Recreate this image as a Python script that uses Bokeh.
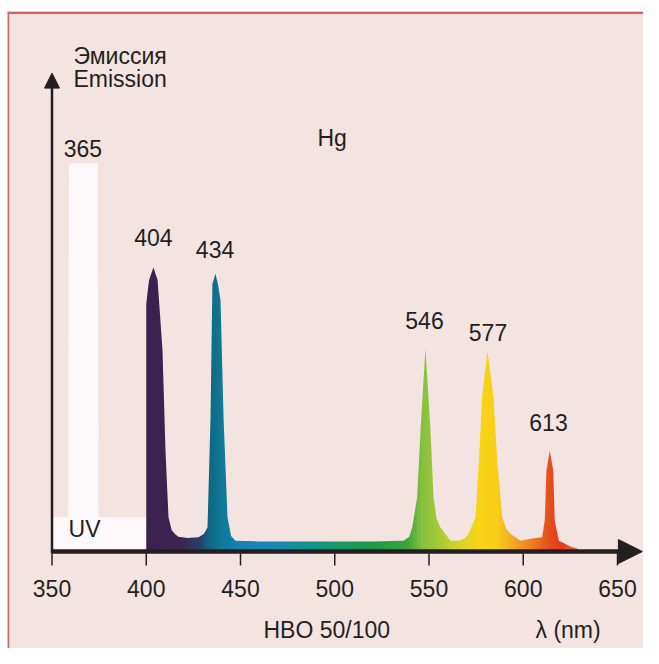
import numpy as np
from bokeh.plotting import figure
from bokeh.models import Arrow, NormalHead, Span
from bokeh.embed import file_html
from bokeh.resources import INLINE
from bokeh.core.properties import value

# ---------------- data ----------------
# UV part (white): wavelength (nm) and emission (relative, 365 peak = 100)
uv_wl = [350.0, 358.6, 359.0, 374.2, 374.7, 400.0]
uv_em = [8.8, 8.8, 100.0, 100.0, 8.8, 8.8]

# visible part outline
vis_wl = [400.0, 401.5, 403.8, 406.0, 408.6, 410.2, 411.8, 413.5, 415.5, 417.0,
          422.0, 427.7, 430.5, 432.5, 434.1, 435.1, 436.7, 438.0, 439.4, 441.0,
          443.1, 445.0, 447.3, 460.0, 480.0, 500.0, 520.0, 530.0, 536.5, 539.5,
          541.1, 543.7, 545.5, 548.1, 550.8, 552.4, 554.0, 556.1, 561.4, 566.0,
          569.0, 571.0, 574.7, 576.4, 578.2, 581.0, 584.2, 586.3, 588.8, 591.0,
          593.2, 598.5, 603.8, 610.0, 611.4, 612.3, 614.1, 615.9, 616.7, 618.9,
          625.1, 628.6, 630.0]
vis_em = [64.0, 70.0, 73.2, 70.0, 52.0, 26.0, 8.8, 5.5, 4.4, 3.8,
          3.5, 3.7, 4.5, 6.2, 34.5, 69.0, 71.6, 69.0, 64.7, 34.5,
          8.8, 4.0, 2.8, 2.6, 2.6, 2.6, 2.6, 2.7, 2.8, 3.8,
          6.2, 13.9, 31.2, 52.3, 31.2, 13.9, 8.5, 6.2, 2.8, 2.8,
          3.4, 4.6, 8.8, 22.7, 39.8, 51.8, 39.8, 22.7, 8.8, 5.8,
          4.6, 2.8, 3.3, 3.7, 8.0, 20.9, 26.0, 20.9, 8.0, 2.8,
          1.3, 0.8, 0.0]

peak_labels = ["365", "404", "434", "546", "577", "613"]
tick_values = [350, 400, 450, 500, 550, 600, 650]
tick_labels = ["350", "400", "450", "500", "550", "600", "650"]

# ---------------- style ----------------
BG = "#f3e4e2"
RED = "#d9625f"
INK = "#231f20"
FONT = value("Liberation Sans")
FS = "23px"
TXT = dict(text_font=FONT, text_font_size=FS, text_color=INK,
           text_baseline="alphabetic", y_offset=-9.5)

# colour stops of the spectrum band (style)
stop_nm = [400, 418, 428, 434, 440, 450, 470, 485, 500, 520, 538, 546, 556, 566,
           576, 586, 595, 605, 612, 620, 630]
stop_col = ["#3a2150", "#3d2452", "#2c3f6a", "#0f6b85", "#0f7a98", "#1683b8",
            "#1a88b5", "#14938e", "#179a6a", "#1f9a48", "#3da53d", "#86c040",
            "#a9cc36", "#d8d42a", "#f8d516", "#f8cf18", "#f5a623", "#ef7c22",
            "#e6561f", "#e33b1c", "#ee6b4a"]

p = figure(width=643, height=648, x_range=(326.39, 663.79), y_range=(-25.0, 139.18),
           output_backend="svg", toolbar_location=None,
           x_axis_location=None, y_axis_location=None,
           min_border_left=7, min_border_right=0, min_border_top=11, min_border_bottom=0,
           background_fill_color=BG, border_fill_color="white", outline_line_color=None)
p.grid.visible = False

# frame lines (top & left)
p.add_layout(Span(location=138.84, dimension="width", line_color=RED, line_width=2.5))
p.add_layout(Span(location=326.75, dimension="height", line_color=RED, line_width=2))

# UV white region with the 365 line
p.patch([uv_wl[0]] + uv_wl + [uv_wl[-1]], [0] + uv_em + [0],
        fill_color="#fdf9fa", line_color=None)

# spectral colour band, then mask everything above the emission curve
n = 460
xs = np.linspace(400, 630, n)
rgb = np.array([[int(c[i:i + 2], 16) for i in (1, 3, 5)] for c in stop_col], dtype=float)
img = np.empty((1, n), dtype=np.uint32)
view = img.view(dtype=np.uint8).reshape((1, n, 4))
for k in range(3):
    view[0, :, k] = np.interp(xs, stop_nm, rgb[:, k]).astype(np.uint8)
view[0, :, 3] = 255
p.image_rgba(image=[img], x=400, y=0, dw=230, dh=76)

mask_x = [399.0, 399.0] + vis_wl + [631.0, 631.0]
mask_y = [77.0, vis_em[0]] + vis_em + [0.0, 77.0]
p.patch(mask_x, mask_y, fill_color=BG, line_color=None)

# axes
p.segment(x0=[tick_values[0]], y0=[0], x1=[652], y1=[0], line_width=4.5, line_color=INK)
p.add_layout(Arrow(end=NormalHead(size=24, fill_color=INK, line_color=INK, line_width=1),
                   x_start=655, y_start=0, x_end=663.2, y_end=0, line_color=None))
p.segment(x0=[tick_values[0]], y0=[-0.5], x1=[tick_values[0]], y1=[120], line_width=2.5,
          line_color=INK)
p.add_layout(Arrow(end=NormalHead(size=15, fill_color=INK, line_color=INK, line_width=1),
                   x_start=350, y_start=118, x_end=350, y_end=123.3, line_color=None))
p.segment(x0=tick_values, y0=[-0.5] * len(tick_values), x1=tick_values,
          y1=[-3.6] * len(tick_values), line_width=1.5, line_color=INK)
p.text(x=tick_values, y=[-11.86] * len(tick_values), text=tick_labels,
       text_align="center", **TXT)

# peak labels
p.text(x=[366.4, 403.8, 436.5, 547.6, 581.3, 613.4],
       y=[101.5, 78.4, 75.5, 57.2, 53.9, 30.9], text=peak_labels,
       text_align="center", **TXT)

# other texts
p.text(x=[361.4, 361.4, 490.8, 358.8, 462.2, 606.5],
       y=[125.3, 119.3, 104.1, 3.35, -22.7, -22.7],
       text=["Эмиссия", "Emission", "Hg", "UV", "HBO 50/100", "λ (nm)"],
       text_align="left", **TXT)

open("out.html", "w").write(file_html(p, INLINE))
